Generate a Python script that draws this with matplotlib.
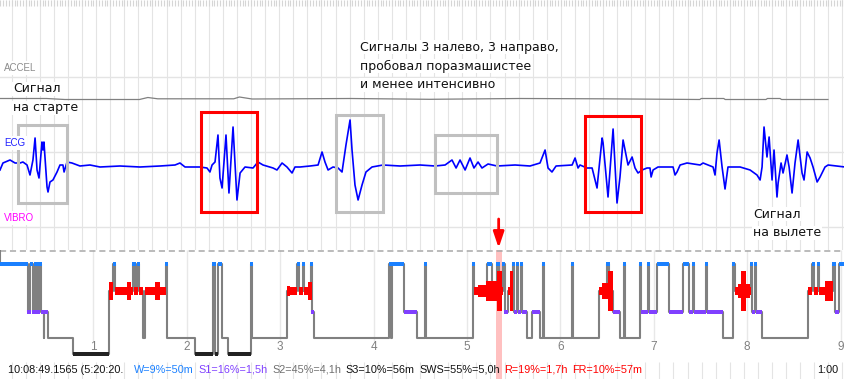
import numpy as np
import matplotlib.pyplot as plt
from matplotlib.patches import Rectangle
from matplotlib.transforms import blended_transform_factory

W_PX, H_PX = 845, 379
SPLIT = 250  # pixel row where the hypnogram panel starts


def fx(x):
    return x / W_PX


def fy(y):
    return 1 - y / H_PX


# ---------------- top panel: 60 s signal window ----------------
window_s = 60.01
grid_offset_s = 0.83

ecg_t = [0.00, 0.21, 0.71, 1.07, 1.42, 1.63, 1.92, 2.13, 2.34, 2.49, 2.63, 2.77, 2.98, 3.05, 3.12,
         3.34, 3.41, 3.55, 3.76, 4.05, 4.26, 4.47, 4.55, 4.76, 5.11, 5.68, 6.39, 7.10, 8.52, 9.94,
         11.36, 12.43, 12.78, 13.14, 14.20, 14.70, 14.91, 15.06, 15.27, 15.48, 15.62, 15.77, 16.05,
         16.26, 16.55, 16.83, 17.05, 17.40, 17.97, 18.32, 18.68, 19.39, 19.67, 20.03, 20.38, 20.74,
         20.95, 21.31, 22.02, 22.59, 22.87, 23.08, 23.30, 23.65, 24.01, 24.29, 24.57, 24.86, 25.00,
         25.21, 25.43, 25.71, 25.99, 26.42, 27.20, 28.41, 29.83, 30.90, 31.61, 32.10, 32.39, 32.67,
         33.03, 33.38, 33.66, 33.95, 34.23, 34.66, 35.30, 36.58, 37.64, 38.35, 38.71, 38.92, 39.20,
         39.49, 40.63, 40.84, 41.05, 41.19, 41.69, 42.05, 42.40, 42.47, 42.76, 42.83, 43.18, 43.54,
         43.82, 44.03, 44.25, 44.60, 44.89, 45.10, 45.31, 45.60, 45.95, 46.16, 46.24, 46.38, 46.73,
         47.80, 47.94, 48.08, 48.30, 48.79, 49.72, 49.93, 50.64, 50.78, 50.92, 51.07, 51.28, 51.49,
         51.70, 52.56, 53.27, 53.76, 53.98, 54.12, 54.26, 54.47, 54.62, 54.83, 54.97, 55.18, 55.26,
         55.47, 55.61, 55.89, 56.04, 56.25, 56.46, 56.68, 56.96, 57.10, 57.32, 57.53, 57.74, 58.03,
         58.24, 58.59, 58.81, 60.01]
ecg_v = [-5, 2, 5, 2, 2, 3, 0, -10, 5, 27, -5, -13, 23, 15, 23,
         -22, -27, -17, -15, -7, 0, 0, -7, 3, 2, -1, 0, -2, -1, -2,
         -1, 0, 2, -2, -2, -3, -7, 0, 3, 30, -13, -23, 30,
         -28, 38, -35, -8, -2, -3, 3, 0, -3, -5, 2, -2, -8,
         -2, -2, -1, 0, 13, 3, -5, -2, -3, -7, 20, 45, 15,
         -20, -35, -20, -7, -2, 0, -1, 0, -1, 0, 5, -3, 5,
         -5, 7, -3, 3, -3, 1, -1, 0, -1, 2, 15, -3, -7,
         -1, 0, 7, -3, 0, -3, -3, -23, -13, 27, 22, -32, 36,
         -38, -12, 25, 0, 8, -3, -8, -5, -3, -3, -12, -5, -2,
         -2, -10, -7, 0, 2, 0, 2, -2, -10, 12, 25, -2, -24,
         -2, -2, -5, -10, -15, -2, 38, 8, 28, -15, 15, -32, -18,
         2, -8, 10, -2, -28, 2, 25, -8, -15, 13, 7, -2, -17,
         -12, -2, 0, -2]

accel_t = [0.0, 3.3, 4.6, 9.9, 10.5, 11.2, 16.6, 17.0, 17.9, 24.9, 30.5, 36.9, 42.6,
           49.7, 49.8, 51.4, 51.5, 54.4, 54.5, 55.4, 55.5, 56.4, 56.5, 58.8]
accel_v = [0.0, 0.0, -1.0, -1.0, 1.0, -0.3, -0.3, 1.5, -0.5, 0.0, -0.8, 0.0, -0.3,
           -1.0, 0.0, 0.0, -1.0, -1.0, 0.0, 0.0, -1.0, -1.0, -1.0, -1.0]

# highlighted gestures: (t start, t end, top amplitude, bottom amplitude, kind)
boxes = [(1.28, 4.76, 40, -38, 'plain'),
         (14.27, 18.25, 53, -47, 'main'),
         (23.86, 27.20, 50, -47, 'plain'),
         (30.89, 35.30, 30, -28, 'plain'),
         (41.55, 45.52, 49, -47, 'main')]

# ---------------- hypnogram (hours) ----------------
hyp_start_h = [0.000, 0.300, 0.321, 0.353, 0.375, 0.396, 0.418, 0.439, 0.466, 0.476, 0.519, 0.782,
               1.167, 1.215, 1.231, 1.429, 1.445, 1.472, 1.488, 1.531, 1.552, 1.777, 1.793,
               2.088, 2.281, 2.297, 2.334, 2.382, 2.441, 2.687, 2.703,
               3.073, 3.185, 3.201, 3.239, 3.255, 3.330, 3.340, 3.357,
               4.170, 4.186, 4.202, 4.325, 4.465, 4.545, 4.561,
               5.059, 5.075, 5.214, 5.268, 5.316, 5.343, 5.385, 5.402, 5.434, 5.493, 5.503,
               5.535, 5.546, 5.578, 5.589, 5.642, 5.696, 5.782, 5.814, 5.824,
               6.124, 6.135, 6.413, 6.499, 6.520, 6.558, 6.638, 6.681, 6.692, 6.852, 6.863,
               6.938, 6.949, 7.034, 7.163, 7.313, 7.377, 7.420, 7.430, 7.559, 7.570, 7.741,
               7.848, 7.864, 8.041, 8.051, 8.084, 8.094, 8.158, 8.651, 8.699, 8.715, 8.753,
               8.769, 8.919, 8.935, 8.983]
hyp_stage = ['W', 'S1', 'W', 'S1', 'W', 'S1', 'W', 'S1', 'S2', 'S1', 'S2', 'S3',
             'R', 'W', 'R', 'W', 'R', 'W', 'R', 'S2', 'R', 'W', 'S2',
             'S3', 'W', 'S3', 'W', 'S2', 'S3', 'W', 'S2',
             'R', 'W', 'R', 'W', 'R', 'W', 'S1', 'S2',
             'W', 'S2', 'W', 'S1', 'S2', 'W', 'S2',
             'W', 'R', 'W', 'R', 'W', 'R', 'W', 'S1', 'R', 'W', 'S1',
             'W', 'S1', 'W', 'S1', 'S2', 'S1', 'S2', 'W', 'S2',
             'W', 'S2', 'R', 'W', 'R', 'S1', 'S2', 'W', 'S2', 'W', 'S1',
             'W', 'S1', 'W', 'S1', 'W', 'S1', 'W', 'S1', 'W', 'S1', 'S2',
             'W', 'R', 'W', 'S1', 'W', 'S1', 'S2', 'R', 'W', 'R', 'W',
             'R', 'W', 'S1', 'W']
hyp_end_h = 9.047

# bursts of eye movements during REM: (start h, end h, intensity)
rem_bursts = [(1.167, 1.210, 2.25), (1.360, 1.403, 2.25), (1.660, 1.713, 2.25),
              (3.073, 3.105, 1.25), (3.298, 3.340, 2.25),
              (5.118, 5.203, 1.5), (5.203, 5.321, 2.5), (5.321, 5.375, 5.0), (5.460, 5.493, 5.0),
              (6.445, 6.510, 2.0), (6.510, 6.563, 5.0),
              (7.901, 8.030, 1.75), (7.934, 7.987, 5.0),
              (8.833, 8.919, 2.5)]

cursor_h = 5 + 20 / 60 + 20 / 3600
hour_ticks = [1, 2, 3, 4, 5, 6, 7, 8, 9]

timestamp = '10:08:49.1565 (5:20:20.'
stats_text = ['W=9%=50m', 'S1=16%=1,5h', 'S2=45%=4,1h', 'S3=10%=56m', 'SWS=55%=5,0h',
              'R=19%=1,7h', 'FR=10%=57m']
stats_color = ['#1a80ff', '#8040ff', '#707070', '#111111', '#111111', '#ff0000', '#ff0000']

# ---------------- drawing ----------------
fig = plt.figure(figsize=(W_PX / 100, H_PX / 100), dpi=100)
ax_sig = fig.add_axes([0, fy(SPLIT), 1, SPLIT / H_PX])
ax_hyp = fig.add_axes([0, 0, 1, fy(SPLIT)])
for ax in (ax_sig, ax_hyp):
    ax.set_axis_off()

ax_sig.set_xlim(0, window_s)
ax_sig.set_ylim(SPLIT, 0)

sec_grid = np.arange(grid_offset_s, window_s, 1.0)
minor_grid = np.arange(grid_offset_s % 0.2, window_s, 0.2)
for t in sec_grid:
    ax_sig.axvline(t, color='#e4e4e4', lw=0.8, zorder=0)
ax_sig.vlines(minor_grid, 0, 6, color='#d6d6d6', lw=0.8, zorder=0)
for row in (77, 152, 227):
    ax_sig.axhline(row, color='#e4e4e4', lw=1.0, zorder=0)

ACCEL_ROW, ECG_ROW = 98.5, 165
ax_sig.plot(accel_t, ACCEL_ROW - np.array(accel_v), color='#808080', lw=0.9, zorder=2)
ax_sig.plot(ecg_t, ECG_ROW - np.array(ecg_v), color='#0000ff', lw=1.2, zorder=3)

for t0, t1, hi, lo, kind in boxes:
    col = '#ff0000' if kind == 'main' else '#c0c0c0'
    ax_sig.add_patch(Rectangle((t0, ECG_ROW - hi), t1 - t0, hi - lo, fill=False,
                               ec=col, lw=2.2, zorder=4))

lab = dict(fontsize=7, family='Liberation Sans', va='center',
           bbox=dict(facecolor='white', edgecolor='none', pad=1.5))
fig.text(fx(4), fy(68), 'ACCEL', color='#8c8c8c', **lab)
fig.text(fx(4), fy(143), 'ECG', color='#2020ff', **lab)
fig.text(fx(4), fy(218), 'VIBRO', color='#ff00ff', **lab)

note = dict(fontsize=9, family='DejaVu Sans', va='center', color='#111111',
            bbox=dict(facecolor='white', edgecolor='none', pad=0.5))
for i, line in enumerate(['Сигнал', 'на старте']):
    fig.text(fx(13), fy(89 + 19 * i), line, **note)
for i, line in enumerate(['Сигналы 3 налево, 3 направо,', 'пробовал поразмашистее',
                          'и менее интенсивно']):
    fig.text(fx(360), fy(47 + 19 * i), line, **note)
for i, line in enumerate(['Сигнал', 'на вылете']):
    fig.text(fx(753), fy(214 + 19 * i), line, **note)

# hypnogram
ax_hyp.set_xlim(0, hyp_end_h)
ax_hyp.set_ylim(H_PX, SPLIT)
levels = {'W': 264, 'R': 291, 'S1': 311.7, 'S2': 338, 'S3': 354}
ax_hyp.axhline(250.7, color='#a8a8a8', lw=1.1, dashes=(4, 2.5), zorder=1)
ax_hyp.vlines(hour_ticks, SPLIT, 341, color='#e8e8e8', lw=1.0, zorder=0)
ax_hyp.vlines([0], SPLIT, levels['W'], color='#808080', lw=1.5, zorder=2)
ax_hyp.axvspan(cursor_h - 0.032, cursor_h + 0.032, color='#ffc0c0', lw=0, zorder=0.5)

xs = hyp_start_h + [hyp_end_h]
ys = [levels[s] for s in hyp_stage] + [levels[hyp_stage[-1]]]
ax_hyp.step(xs, ys, where='post', color='#808080', lw=1.5, zorder=2)

ends = hyp_start_h[1:] + [hyp_end_h]
stage_style = {'W': ('#1a80ff', 4.5), 'S1': ('#8040ff', 4.0), 'S3': ('#222222', 4.5),
               'R': ('#ff0000', 8.0)}
min_w = 0.037
for s0, s1, st in zip(hyp_start_h, ends, hyp_stage):
    if st not in stage_style:
        continue
    col, h = stage_style[st]
    w = s1 - s0
    x0 = s0
    if w < min_w:
        x0 = (s0 + s1) / 2 - min_w / 2
        w = min_w
    ax_hyp.add_patch(Rectangle((x0, levels[st] - h / 2), w, h, color=col, lw=0, zorder=3))

for b0, b1, k in rem_bursts:
    hh = 4 * k
    ax_hyp.add_patch(Rectangle((b0, levels['R'] - hh), b1 - b0, 2 * hh, color='#ff0000',
                               lw=0, zorder=3))

for h in hour_ticks:
    ax_hyp.text(h, 347, str(h), ha='center', va='center', color='#808080', fontsize=8.5,
                family='Liberation Sans')

ax_hyp.annotate('', xy=(cursor_h, 248), xytext=(cursor_h, 219),
                arrowprops=dict(arrowstyle='-|>,head_width=0.32,head_length=0.95',
                                color='#ff0000', lw=2, shrinkA=0, shrinkB=0),
                annotation_clip=False, zorder=6)

# time ruler ticks along the bottom edge
trans = blended_transform_factory(ax_sig.transData, fig.transFigure)
ax_sig.vlines(sec_grid, 0, 17 / H_PX, transform=trans, color='#e4e4e4', lw=0.8,
              clip_on=False, zorder=0)

txt = dict(fontsize=7.8, family='Liberation Sans', va='center')
fig.text(fx(8), fy(370), timestamp, color='#111111', **txt)
fig.text(fx(838), fy(370), '1:00', color='#111111', ha='right', **txt)
fig.canvas.draw()
renderer = fig.canvas.get_renderer()
x = 134
for label, col in zip(stats_text, stats_color):
    t = fig.text(fx(x), fy(370), label, color=col, **txt)
    x += t.get_window_extent(renderer).width + 4.5

fig.savefig('out.png', dpi=100)
